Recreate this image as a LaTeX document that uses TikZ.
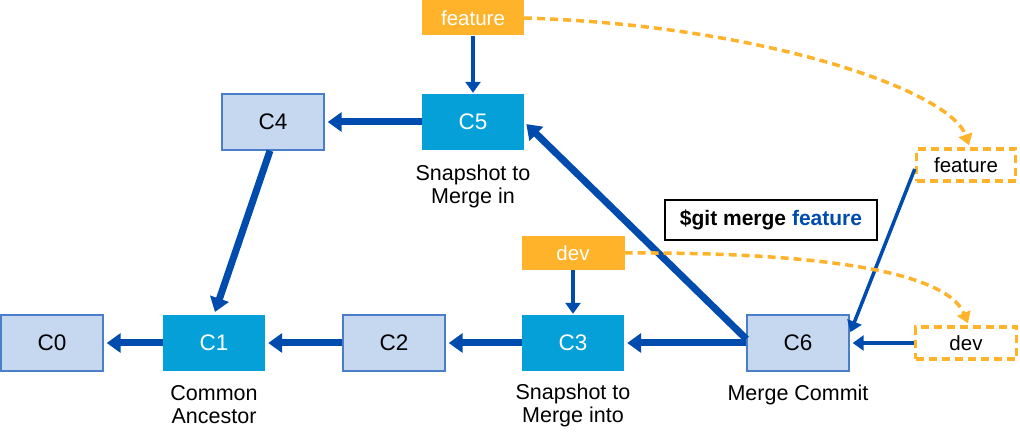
\documentclass[tikz,border=0pt]{standalone}
\usepackage{fontspec}
\setmainfont{Liberation Sans}
\usetikzlibrary{arrows.meta,positioning}
\definecolor{arrowblue}{RGB}{0,76,174}
\definecolor{cyanbox}{RGB}{5,160,216}
\definecolor{lightfill}{RGB}{197,216,240}
\definecolor{lightborder}{RGB}{74,126,200}
\definecolor{orangebox}{RGB}{255,179,42}
\tikzset{
  commitlight/.style={draw=lightborder,line width=1.4pt,fill=lightfill,minimum width=102pt,minimum height=56pt,inner sep=0pt,font=\fontsize{22.5}{24}\selectfont,text=black},
  commitdark/.style={fill=cyanbox,minimum width=102pt,minimum height=56pt,inner sep=0pt,font=\fontsize{22.5}{24}\selectfont,text=white},
  branchtag/.style={fill=orangebox,minimum width=102pt,minimum height=35pt,inner sep=0pt,font=\fontsize{20.5}{22}\selectfont,text=white},
  branchghost/.style={draw=orangebox,line width=3.5pt,dash pattern=on 8pt off 5pt,fill=white,minimum width=99pt,minimum height=32pt,inner sep=0pt,font=\fontsize{20.5}{22}\selectfont,text=black},
  caption/.style={align=center,font=\fontsize{21.5}{23}\selectfont,text=black,inner sep=0pt},
  thickarrow/.style={draw=arrowblue,line width=7pt,-{Triangle[length=14pt,width=19pt]},shorten >=3pt},
  thinarrow/.style={draw=arrowblue,line width=3.5pt,-{Triangle[length=11pt,width=15pt]},shorten >=1pt},
  movearrow/.style={draw=orangebox,line width=3.5pt,dash pattern=on 8pt off 5pt,-{Triangle[length=11pt,width=14pt]}},
}
\begin{document}
\begin{tikzpicture}[x=1pt,y=-1pt]
\useasboundingbox (0,0) rectangle (1020,435);
% commits
\node[commitlight] (C0) at (52,343) {C0};
\node[commitdark] (C1) at (214,343) {C1};
\node[commitlight] (C2) at (394,343) {C2};
\node[commitdark] (C3) at (573,343) {C3};
\node[commitlight] (C6) at (798,343) {C6};
\node[commitlight] (C4) at (273,122) {C4};
\node[commitdark] (C5) at (473,122) {C5};
% branch tags
\node[branchtag] (F1) at (473,18) {feature};
\node[branchtag,minimum width=103pt,minimum height=34pt] (D1) at (573,253) {dev};
\node[branchghost] (F2) at (966,165) {feature};
\node[branchghost,minimum width=101pt] (D2) at (966,343) {dev};
% command
\node[draw=black,line width=1.8pt,fill=white,minimum width=212pt,minimum height=40pt,inner sep=0pt,font=\bfseries\fontsize{21}{23}\selectfont] (cmd) at (771,220) {\$git merge \textcolor{arrowblue}{feature}};
% captions
\node[caption] (L5) at (473,186) {Snapshot to\\Merge in};
\node[caption] (L1) at (214,405) {Common\\Ancestor};
\node[caption] (L3) at (573,405) {Snapshot to\\Merge into};
\node[caption] (L6) at (798,395) {Merge Commit};
% thick arrows
\draw[thickarrow] (C1.west) -- (C0.east);
\draw[thickarrow] (C2.west) -- (C1.east);
\draw[thickarrow] (C3.west) -- (C2.east);
\draw[thickarrow] (C6.west) -- (C3.east);
\draw[thickarrow] (C5.west) -- (C4.east);
\draw[thickarrow] ([xshift=-3pt]C4.south) -- (C1.north);
\draw[thickarrow] ([yshift=4pt]C6.west) -- (C5.east);
% thin arrows
\draw[thinarrow] (F1.south) -- (C5.north);
\draw[thinarrow] (D1.south) -- (C3.north);
\draw[thinarrow,shorten >=3pt] (D2.west) -- (C6.east);
\draw[thinarrow,shorten >=2pt] ([yshift=-4pt]F2.west) -- ([yshift=9pt]C6.east);
% moving branch pointers
\draw[movearrow] (F1.east) .. controls (760,25) and (950,90) .. ([xshift=3pt,yshift=2pt]F2.north);
\draw[movearrow] (D1.east) .. controls (800,252) and (945,268) .. ([xshift=2pt,yshift=2pt]D2.north);
\end{tikzpicture}
\end{document}
